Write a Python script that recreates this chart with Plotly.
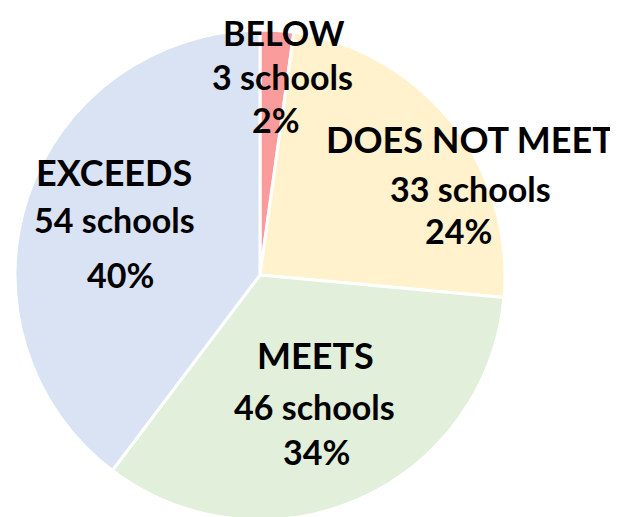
import plotly.graph_objects as go

categories = ["BELOW", "DOES NOT MEET", "MEETS", "EXCEEDS"]
schools = [3, 33, 46, 54]
percent_labels = ["2%", "24%", "34%", "40%"]
colors = ["#FB9C9C", "#FFF2CC", "#E2EFDA", "#DAE3F3"]

W, H = 618, 517
OFF = 8  # page body margin offset

# label line centers in pixel coords (x, y) for name / schools / percent
label_px = [
    [(284, 33), (282, 76), (276, 119)],
    [(470, 139), (470, 188), (458, 231)],
    [(315, 355), (314, 406), (316, 451)],
    [(114, 172), (114, 219), (120, 274)],
]
name_sizes = [34, 36, 36, 36]

# pie center / radius in pixel coords
cx, cy, r = 260 - OFF, 275 - OFF, 245

fig = go.Figure(go.Pie(
    labels=categories,
    values=schools,
    sort=False,
    direction="clockwise",
    rotation=0,
    marker=dict(colors=colors, line=dict(color="white", width=3)),
    textinfo="none",
    hoverinfo="label+value+percent",
    showlegend=False,
    domain=dict(x=[(cx - r - 1) / W, (cx + r + 1) / W],
                y=[(H - cy - r) / H, (H - cy + r) / H]),
))

ann = []
for i, cat in enumerate(categories):
    lines = ["<b>%s</b>" % cat, "<b>%d schools</b>" % schools[i], "<b>%s</b>" % percent_labels[i]]
    for j, t in enumerate(lines):
        px, py = label_px[i][j]
        ann.append(dict(
            x=(px - OFF) / W, y=1 - (py - OFF) / H,
            xref="paper", yref="paper", text=t, showarrow=False,
            xanchor="center", yanchor="middle",
            font=dict(family="Lato", size=name_sizes[i] if j == 0 else 34, color="black"),
        ))

fig.update_layout(
    width=W, height=H,
    margin=dict(l=0, r=0, t=0, b=0),
    paper_bgcolor="white",
    annotations=ann,
)

fig.write_html("out.html")
